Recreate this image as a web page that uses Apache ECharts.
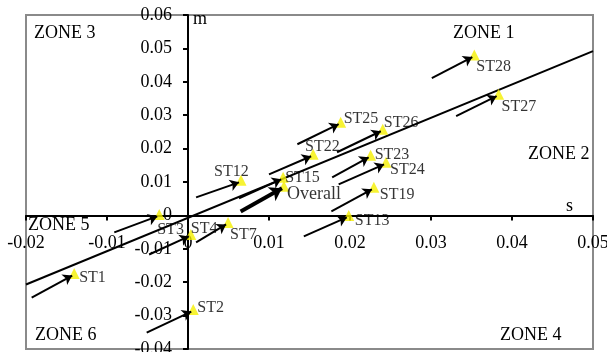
<!DOCTYPE html>
<html>
<head>
<meta charset="utf-8">
<script src="https://cdn.jsdelivr.net/npm/echarts@6/dist/echarts.min.js"></script>
<style>
  html, body { margin: 0; padding: 0; background: #fff; }
  #main { width: 607px; height: 352px; }
</style>
</head>
<body>
<div id="main"></div>
<script>
// station names
const names = ['ST1', 'ST2', 'ST3', 'ST4', 'ST7', 'ST12', 'ST13', 'ST15', 'ST19',
  'ST22', 'ST23', 'ST24', 'ST25', 'ST26', 'ST27', 'ST28', 'Overall']
// station position (s, m)
const pointS = [-0.0143, 0.0004, -0.0038, 0.0001, 0.0047, 0.0063, 0.0196, 0.0115, 0.0227,
  0.0152, 0.0223, 0.0242, 0.0186, 0.0238, 0.0381, 0.0351, 0.0116]
const pointM = [-0.0180, -0.0288, -0.0003, -0.0063, -0.0027, 0.0099, -0.0006, 0.0108, 0.0078,
  0.0177, 0.0174, 0.0153, 0.0273, 0.0252, 0.0357, 0.0474, 0.0081]
// arrow tails
const fromS = [-0.0193, -0.0051, -0.0091, -0.0048, 0.0010, 0.0010, 0.0143, 0.0063, 0.0177,
  0.0100, 0.0178, 0.0186, 0.0135, 0.0184, 0.0331, 0.0301, 0.0065]
const fromM = [-0.0246, -0.0351, -0.0051, -0.0117, -0.0081, 0.0054, -0.0063, 0.0051, 0.0012,
  0.0123, 0.0114, 0.0093, 0.0213, 0.0189, 0.0297, 0.0411, 0.0012]
// reference line
const lineS = [-0.02, 0.05]
const lineM = [-0.0207, 0.0492]
// axis ranges
const sRange = [-0.02, 0.05]
const mRange = [-0.04, 0.06]

// label placement (style only)
const labelOffset = {
  ST1: [-0.5, 4], ST2: [-1.5, -2], ST3: [-7.5, 15], ST4: [-5.5, -6], ST7: [-3.5, 12],
  ST12: [-32.5, -9], ST13: [0.5, 5], ST15: [-3.5, 0], ST19: [0.5, 7], ST22: [-13.5, -7],
  ST23: [-1.5, 0], ST24: [-1.5, 7], ST25: [-2.5, -3], ST26: [-4.5, -6], ST27: [-2.5, 13],
  ST28: [-3.5, 12], Overall: [-2.5, 8]
}

const font = 'Liberation Serif'
const fmt = v => Math.abs(v) < 1e-9 ? '0' : v.toFixed(2)
const W = 607, H = 352
const gridBox = { left: 26, right: 14, top: 15, bottom: 3 }

const chart = echarts.init(document.getElementById('main'))

const points = names.map((n, i) => ({
  name: n,
  value: [pointS[i], pointM[i]],
  label: {
    offset: labelOffset[n],
    fontSize: n === 'Overall' ? 18 : 16
  }
}))

const arrows = names.map((n, i) => ({
  coords: [[fromS[i], fromM[i]], [pointS[i], pointM[i]]],
  lineStyle: { width: n === 'Overall' ? 4 : 2 },
  symbolSize: n === 'Overall' ? 12 : 9
}))

const zoneText = (text, left, top) => ({
  type: 'text', left, top,
  style: { text, fontFamily: font, fontSize: 18, fill: '#000' }
})

const axisCommon = {
  type: 'value',
  splitLine: { show: false },
  axisLine: { show: true, onZero: false, lineStyle: { color: '#000', width: 2 } },
  axisTick: { show: true, inside: false, length: 5, lineStyle: { color: '#000', width: 2 } }
}

const option = {
  animation: false,
  backgroundColor: '#fff',
  grid: Object.assign({
    outerBoundsMode: 'none',
    containLabel: false,
    show: true, borderColor: '#8a8a8a', borderWidth: 2
  }, gridBox),
  xAxis: Object.assign({}, axisCommon, {
    min: sRange[0], max: sRange[1], interval: 0.01,
    axisLabel: { margin: 19, color: '#000', fontFamily: font, fontSize: 18, formatter: fmt, showMaxLabel: true, showMinLabel: true }
  }),
  yAxis: Object.assign({}, axisCommon, {
    min: mRange[0], max: mRange[1], interval: 0.01,
    axisLabel: { margin: 16, color: '#000', fontFamily: font, fontSize: 18, formatter: fmt, showMaxLabel: true, showMinLabel: true }
  }),
  graphic: [
    zoneText('ZONE 3', 34, 24),
    zoneText('ZONE 1', 453, 24),
    zoneText('ZONE 2', 528, 145),
    zoneText('ZONE 5', 28, 216),
    zoneText('ZONE 6', 35, 326),
    zoneText('ZONE 4', 500, 326),
    zoneText('m', 193, 10),
    zoneText('s', 566, 197)
  ],
  series: [
    {
      type: 'line',
      data: lineS.map((s, i) => [s, lineM[i]]),
      showSymbol: false,
      lineStyle: { color: '#000', width: 2 },
      z: 2
    },
    {
      type: 'scatter',
      data: points,
      symbol: 'triangle',
      symbolSize: 11,
      symbolOffset: [2, -2],
      itemStyle: { color: '#f5f000' },
      label: {
        show: true,
        position: 'right',
        distance: 0,
        formatter: '{b}',
        color: '#000',
        fontFamily: font
      },
      z: 3
    },
    {
      type: 'lines',
      coordinateSystem: 'cartesian2d',
      data: arrows,
      symbol: ['none', 'arrow'],
      lineStyle: { color: '#000', opacity: 1 },
      z: 4
    }
  ]
}

chart.setOption(option)

// move both axes so they cross at the origin
const origin = chart.convertToPixel({ gridIndex: 0 }, [0, 0])
chart.setOption({
  xAxis: { offset: -((H - gridBox.bottom) - origin[1]) },
  yAxis: { offset: -(origin[0] - gridBox.left) }
})
</script>
</body>
</html>
